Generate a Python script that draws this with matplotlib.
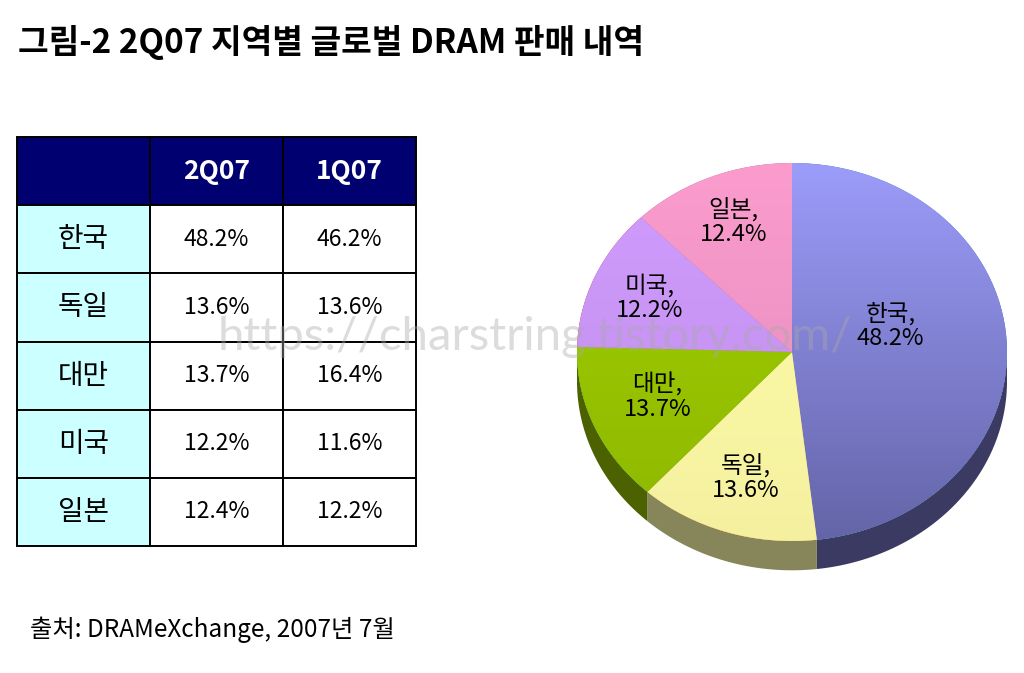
import numpy as np
import matplotlib.pyplot as plt
from matplotlib.colors import LinearSegmentedColormap
from matplotlib.patches import Polygon

plt.rcParams['font.family'] = ['Noto Sans CJK KR', 'DejaVu Sans']

regions = ['한국', '독일', '대만', '미국', '일본']
share_2q07 = [48.2, 13.6, 13.7, 12.2, 12.4]
share_1q07 = [46.2, 13.6, 16.4, 11.6, 12.2]
quarters = ['2Q07', '1Q07']

top_light = ['#9c9cfa', '#ffffa8', '#9fcf00', '#d09cff', '#fb9ccd']
top_dark = ['#6464a8', '#f4f0a0', '#8fb800', '#c08ee8', '#e08cbc']
side_cols = ['#3a3a62', '#86865a', '#4c6200', '#6a4a80', '#7a4a60']

W, H = 1024, 673
fig = plt.figure(figsize=(W / 100, H / 100), dpi=100)
fig.patch.set_facecolor('white')


def fx(px):
    return px / W


def fy(py):
    return 1 - py / H


fig.text(fx(18), fy(42), '그림-2 2Q07 지역별 글로벌 DRAM 판매 내역',
         fontsize=24, fontweight='bold', va='center', ha='left')
fig.text(fx(30), fy(630), '출처: DRAMeXchange, 2007년 7월',
         fontsize=17.5, va='center', ha='left')

# table
tax = fig.add_axes([fx(17), fy(546), fx(416) - fx(17), fy(137) - fy(546)])
tax.axis('off')
cells = [[''] + quarters]
for r, a, b in zip(regions, share_2q07, share_1q07):
    cells.append([r, f'{a:.1f}%', f'{b:.1f}%'])
tbl = tax.table(cellText=cells, bbox=[0, 0, 1, 1], cellLoc='center')
tbl.auto_set_font_size(False)
for (i, j), c in tbl.get_celld().items():
    c.set_linewidth(1.4)
    c.set_edgecolor('black')
    if i == 0:
        c.set_facecolor('#000070')
        c.get_text().set_color('white')
        c.get_text().set_fontweight('bold')
        c.get_text().set_fontsize(19)
    elif j == 0:
        c.set_facecolor('#ccffff')
        c.get_text().set_fontsize(20)
    else:
        c.set_facecolor('white')
        c.get_text().set_fontsize(16.5)

# pie (tilted)
cx, cy, rx, ry = 792, 352, 215, 189
x0, x1, y0, y1 = -1.1, 1.1, -1.35, 1.1
pax = fig.add_axes([fx(cx + x0 * rx), fy(cy - y0 * ry),
                    (x1 - x0) * rx / W, (y1 - y0) * ry / H])
wedges, _ = pax.pie(share_2q07, startangle=90, counterclock=False,
                    radius=1, wedgeprops=dict(linewidth=0))
pax.set_aspect('auto')
pax.axis('off')

depth = 0.155
for w, sc in zip(wedges, side_cols):
    t1, t2 = w.theta1, w.theta2
    for k in (-360, 0, 360):
        a, b = max(t1 + k, 180), min(t2 + k, 360)
        if b > a:
            th = np.radians(np.linspace(a, b, 80))
            xs, ys = np.cos(th), np.sin(th)
            pts = np.vstack([np.column_stack([xs, ys]),
                             np.column_stack([xs[::-1], ys[::-1] - depth])])
            pax.add_patch(Polygon(pts, closed=True, facecolor=sc,
                                  edgecolor='none', zorder=1))

grad = np.linspace(1, 0, 256).reshape(-1, 1)
for w, cl, cd in zip(wedges, top_light, top_dark):
    w.set_zorder(2)
    cmap = LinearSegmentedColormap.from_list('g', [cd, cl])
    im = pax.imshow(grad, cmap=cmap, extent=[-1, 1, -1, 1], aspect='auto',
                    zorder=3, origin='upper')
    im.set_clip_path(w)
pax.set_xlim(x0, x1)
pax.set_ylim(y0, y1)

label_r = [0.46, 0.7, 0.68, 0.72, 0.72]
label_dy = [0.11, 0, 0.03, 0, 0.02]
for w, name, v, r, dy in zip(wedges, regions, share_2q07, label_r, label_dy):
    mid = np.radians((w.theta1 + w.theta2) / 2)
    pax.text(r * np.cos(mid), r * np.sin(mid) + dy, f'{name},\n{v:.1f}%',
             ha='center', va='center', fontsize=17, zorder=5,
             linespacing=1.05)

# watermark
fig.text(fx(535), fy(337), 'https://charstring.tistory.com/',
         fontsize=34, family=['Lato', 'DejaVu Sans'],
         color='#a8a8a8', alpha=0.4, ha='center', va='center', zorder=10)

fig.savefig('out.png', dpi=100, facecolor='white')
